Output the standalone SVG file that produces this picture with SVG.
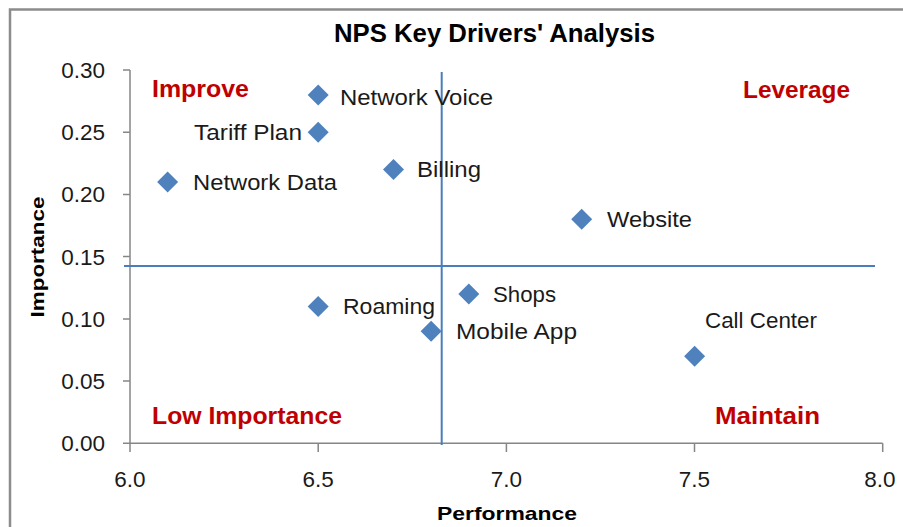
<svg xmlns="http://www.w3.org/2000/svg" width="903" height="527" viewBox="0 0 903 527">
<defs>
<style>
.lbl{font-family:"Liberation Sans",Arial,sans-serif;font-size:22px;fill:#1a1a1a}
.tick{font-family:"Liberation Sans",Arial,sans-serif;font-size:22.5px;fill:#1a1a1a}
.quad{font-family:"Liberation Sans",Arial,sans-serif;font-size:23px;font-weight:bold;fill:#C00000}
.title{font-family:"Liberation Sans",Arial,sans-serif;font-size:26px;font-weight:bold;fill:#000}
.axt{font-family:"Liberation Sans",Arial,sans-serif;font-size:19px;font-weight:bold;fill:#000}
.ax{stroke:#868686;stroke-width:1.5;fill:none}
.ql{stroke:#4A7EBB;stroke-width:2;fill:none}
.pt{fill:#4F81BD}
</style>
<path id="dm" d="M0,-10.5 L10.5,0 L0,10.5 L-10.5,0 Z"/>
</defs>
<rect width="903" height="527" fill="#fff"/>
<path d="M10,527 V9.5 H903" stroke="#8c8c8c" stroke-width="2.5" fill="none"/>
<text class="title" x="494.5" y="42" text-anchor="middle" textLength="321" lengthAdjust="spacingAndGlyphs">NPS Key Drivers' Analysis</text>
<g id="axes">
<path class="ax" d="M130,70 V443.3 H882.7"/>
<path class="ax" d="M123,70 H130 M123,132.2 H130 M123,194.4 H130 M123,256.6 H130 M123,318.9 H130 M123,381.1 H130 M123,443.3 H130"/>
<path class="ax" d="M130,443.3 V452 M318.2,443.3 V452 M506.4,443.3 V452 M694.5,443.3 V452 M882.7,443.3 V452"/>
<g class="tick" text-anchor="end">
<text x="105" y="78">0.30</text>
<text x="105" y="140.2">0.25</text>
<text x="105" y="202.4">0.20</text>
<text x="105" y="264.6">0.15</text>
<text x="105" y="326.9">0.10</text>
<text x="105" y="389.1">0.05</text>
<text x="105" y="451.3">0.00</text>
</g>
<g class="tick" text-anchor="middle">
<text x="130" y="487">6.0</text>
<text x="318.2" y="487">6.5</text>
<text x="506.4" y="487">7.0</text>
<text x="694.5" y="487">7.5</text>
<text x="880" y="487">8.0</text>
</g>
<text class="axt" x="507" y="520" text-anchor="middle" textLength="140" lengthAdjust="spacingAndGlyphs">Performance</text>
<text class="axt" transform="translate(44,257) rotate(-90)" text-anchor="middle" textLength="121" lengthAdjust="spacingAndGlyphs">Importance</text>
</g>
<g id="connectors">
<path class="ql" d="M124,266 H875"/>
<path class="ql" d="M441.7,72 V445"/>
</g>
<g id="quadrants">
<text class="quad" x="152" y="97" textLength="97" lengthAdjust="spacingAndGlyphs">Improve</text>
<text class="quad" x="743" y="98" textLength="107" lengthAdjust="spacingAndGlyphs">Leverage</text>
<text class="quad" x="152" y="424" textLength="190" lengthAdjust="spacingAndGlyphs">Low Importance</text>
<text class="quad" x="715" y="424" textLength="105" lengthAdjust="spacingAndGlyphs">Maintain</text>
</g>
<g id="network-voice"><use href="#dm" class="pt" x="318.2" y="94.9"/><text class="lbl" x="340" y="105" textLength="153" lengthAdjust="spacingAndGlyphs">Network Voice</text></g>
<g id="tariff-plan"><use href="#dm" class="pt" x="318.2" y="132.2"/><text class="lbl" x="194" y="140" textLength="108" lengthAdjust="spacingAndGlyphs">Tariff Plan</text></g>
<g id="network-data"><use href="#dm" class="pt" x="167.6" y="182"/><text class="lbl" x="193" y="190" textLength="144" lengthAdjust="spacingAndGlyphs">Network Data</text></g>
<g id="billing"><use href="#dm" class="pt" x="393.5" y="169.6"/><text class="lbl" x="417" y="177" textLength="64" lengthAdjust="spacingAndGlyphs">Billing</text></g>
<g id="website"><use href="#dm" class="pt" x="581.7" y="219.3"/><text class="lbl" x="607" y="227" textLength="85" lengthAdjust="spacingAndGlyphs">Website</text></g>
<g id="shops"><use href="#dm" class="pt" x="468.8" y="294"/><text class="lbl" x="493" y="302" textLength="63" lengthAdjust="spacingAndGlyphs">Shops</text></g>
<g id="roaming"><use href="#dm" class="pt" x="318.2" y="306.4"/><text class="lbl" x="343" y="314" textLength="92" lengthAdjust="spacingAndGlyphs">Roaming</text></g>
<g id="mobile-app"><use href="#dm" class="pt" x="431.1" y="331.3"/><text class="lbl" x="456" y="339" textLength="121" lengthAdjust="spacingAndGlyphs">Mobile App</text></g>
<g id="call-center"><use href="#dm" class="pt" x="694.6" y="356.2"/><text class="lbl" x="705" y="328" textLength="112" lengthAdjust="spacingAndGlyphs">Call Center</text></g>
</svg>
